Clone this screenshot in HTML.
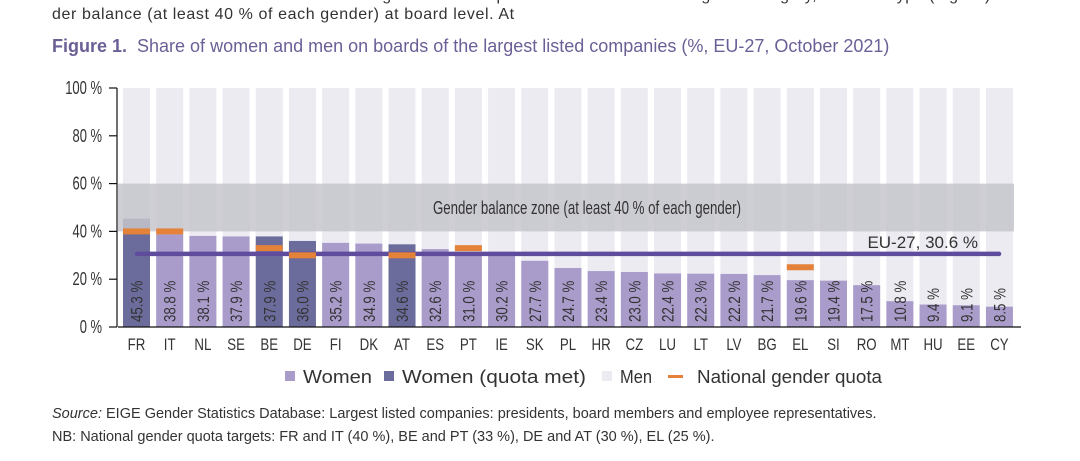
<!DOCTYPE html>
<html><head><meta charset="utf-8"><style>
body{margin:0;width:1080px;height:461px;background:#fff;overflow:hidden;font-family:"Liberation Sans",sans-serif}
.t{position:absolute;white-space:nowrap}
</style></head><body>
<div class="t" style="left:52px;top:-13px;font-size:16px;color:#333;letter-spacing:0.5px">der balance to be reached at least in the largest listed companies at the level of the highest category, … board type (e.g. …)</div>
<div class="t" style="left:52px;top:6px;font-size:16px;color:#333;letter-spacing:0.6px">der balance (at least 40 % of each gender) at board level. At</div>
<div class="t" style="left:52px;top:36px;font-size:18px;color:#6b5f96"><b>Figure 1.</b>&nbsp; Share of women and men on boards of the largest listed companies (%, EU-27, October 2021)</div>
<svg id="chart" width="1080" height="461" style="position:absolute;left:0;top:0" font-family="Liberation Sans, sans-serif"></svg>
<div class="t" style="left:52px;top:406px;font-size:14.5px;color:#333"><i>Source:</i> EIGE Gender Statistics Database: Largest listed companies: presidents, board members and employee representatives.</div>
<div class="t" style="left:52px;top:429px;font-size:14.5px;color:#333">NB: National gender quota targets: FR and IT (40 %), BE and PT (33 %), DE and AT (30 %), EL (25 %).</div>
<script>
const countries=["FR","IT","NL","SE","BE","DE","FI","DK","AT","ES","PT","IE","SK","PL","HR","CZ","LU","LT","LV","BG","EL","SI","RO","MT","HU","EE","CY"];
const women=[45.3,38.8,38.1,37.9,37.9,36.0,35.2,34.9,34.6,32.6,31.0,30.2,27.7,24.7,23.4,23.0,22.4,22.3,22.2,21.7,19.6,19.4,17.5,10.8,9.4,9.1,8.5];
const quotaMet=["FR","BE","DE","AT"];
const quotaCountries=["FR","IT","BE","PT","DE","AT","EL"];
const quotaValues=[40,40,33,33,30,30,25];
const euAvg=30.6;
const yTicks=[0,20,40,60,80,100];
const svg=document.getElementById('chart');
const NS='http://www.w3.org/2000/svg';
const y0=327,y100=88;
const y=v=>y0-(y0-y100)*v/100;
const x0=123,pitch=33.19,bw=27;
const x=i=>x0+i*pitch;
function mk(t,a,p){const e=document.createElementNS(NS,t);for(const k in a)e.setAttribute(k,a[k]);(p||svg).appendChild(e);return e;}
function narrow(t,f){const w=t.getComputedTextLength();t.setAttribute('textLength',(w*f).toFixed(1));t.setAttribute('lengthAdjust','spacingAndGlyphs');}
countries.forEach((c,i)=>{
 const m=mk('rect',{x:x(i),y:y(100),width:bw,height:y(0)-y(100),fill:'#ecebf1'});
 
 
});
countries.forEach((c,i)=>{
 const met=quotaMet.includes(c);
 const r=mk('rect',{x:x(i),y:y(women[i]),width:bw,height:y(0)-y(women[i]),fill:met?'#6b6c9c':'#a99ccb'});
 
 
});
const band=mk('rect',{x:118,y:y(60),width:896,height:y(40)-y(60),fill:'#c6c6cd',opacity:0.85});


const bt=mk('text',{x:433,y:214,'font-size':18,fill:'#333'});
bt.textContent='Gender balance zone (at least 40 % of each gender)';


bt.setAttribute('textLength','308');bt.setAttribute('lengthAdjust','spacingAndGlyphs');
const eu=mk('line',{x1:137,x2:999,y1:y(euAvg),y2:y(euAvg),stroke:'#5f4c9c','stroke-width':4.5,'stroke-linecap':'round'});


const et=mk('text',{x:978,y:y(euAvg)-6,'text-anchor':'end','font-size':17,fill:'#333'});
et.textContent='EU-27, '+euAvg.toFixed(1)+' %';


quotaCountries.forEach((c,k)=>{
 const i=countries.indexOf(c);
 const q=mk('rect',{x:x(i),y:y(quotaValues[k])-3,width:bw,height:6,fill:'#e5823a'});
 
 
});
countries.forEach((c,i)=>{
 const cx=x(i)+bw/2+6;
 const t=mk('text',{x:cx,y:322,'font-size':17,fill:'#333',transform:`rotate(-90 ${cx} 322)`});
 t.textContent=women[i].toFixed(1)+' %';
 
 
 narrow(t,0.78);
 const l=mk('text',{x:x(i)+bw/2,y:350,'text-anchor':'middle','font-size':17,fill:'#333'});
 l.textContent=c;
 
 
 narrow(l,0.78);
});
const ax=mk('line',{x1:118,x2:1021,y1:y0,y2:y0,stroke:'#111','stroke-width':1.2});


const ay=mk('line',{x1:117,x2:117,y1:y100,y2:y0,stroke:'#111','stroke-width':1.2});


yTicks.forEach(v=>{
 const tk=mk('line',{x1:109,x2:117,y1:y(v),y2:y(v),stroke:'#111','stroke-width':1.2});
 
 
 const tt=mk('text',{x:102,y:y(v)+6,'text-anchor':'end','font-size':18,fill:'#333'});
 tt.textContent=v+' %';
 
 
 narrow(tt,0.72);
});
const legend=[["Women","#a99ccb",285,'sq',69],["Women (quota met)","#6b6c9c",384,'sq',184],["Men","#ecebf1",602,'sq',32],["National gender quota","#e5823a",668,'dash',185]];
legend.forEach(([name,col,lx,kind,tw])=>{
 const g=mk('g',{});
 
 
 if(kind==='sq')mk('rect',{x:lx,y:371,width:10,height:10,fill:col},g);
 else mk('rect',{x:lx,y:375,width:15,height:3,fill:col},g);
 const t=mk('text',{x:lx+(kind==='sq'?18:29),y:383,'font-size':18.5,fill:'#333',textLength:tw,lengthAdjust:'spacingAndGlyphs'},g);
 t.textContent=name;
});
</script>
</body></html>
